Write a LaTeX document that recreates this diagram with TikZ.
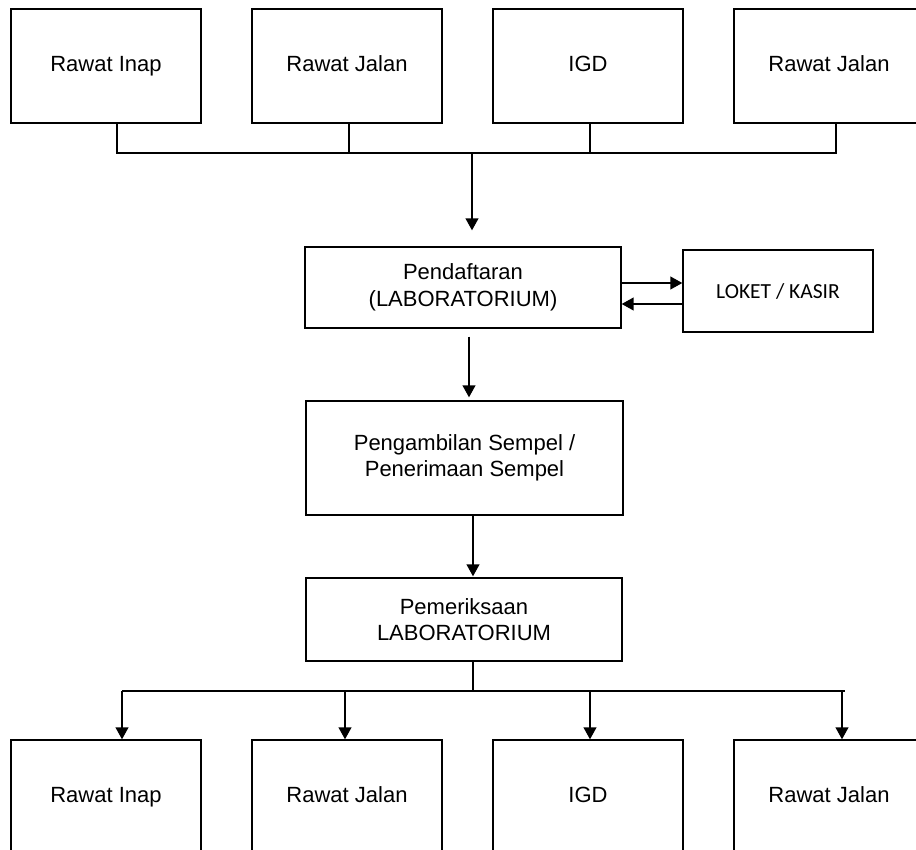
\documentclass[tikz,border=0pt]{standalone}
\usepackage{fontspec}
\setmainfont{Liberation Sans}
\newfontfamily\calibri{Carlito}
\usetikzlibrary{arrows.meta}
\tikzset{
    box/.style={draw, line width=1.2pt, align=center, inner sep=0pt,
        font=\fontsize{22}{26.5}\selectfont},
    unitbox/.style={box, minimum width=190pt, minimum height=114pt,
        text height=16pt, text depth=4.5pt},
    conn/.style={line width=2.4pt},
    arr/.style={conn, -{Triangle[length=12pt,width=12.5pt]}}
}
\begin{document}
\begin{tikzpicture}[x=1pt,y=-1pt]
    \useasboundingbox (0,0) rectangle (916,850);
    \node[unitbox] (rin1) at (106,66) {Rawat Inap};
    \node[unitbox] (rjl1) at (347,66) {Rawat Jalan};
    \node[unitbox] (igd1) at (588,66) {IGD};
    \node[unitbox] (rjl2) at (829,66) {Rawat Jalan};
    \node[box, minimum width=316pt, minimum height=81pt] (daftar) at (463,287.5)
        {Pendaftaran\\(LABORATORIUM)};
    \node[box, minimum width=190pt, minimum height=82pt,
        font=\calibri\fontsize{21.5}{26}\selectfont] (kasir) at (778,291) {LOKET / KASIR};
    \node[box, minimum width=317pt, minimum height=114pt] (ambil) at (464.5,458)
        {Pengambilan Sempel /\\Penerimaan Sempel};
    \node[box, minimum width=316pt, minimum height=83pt] (periksa) at (464,619.5)
        {Pemeriksaan\\LABORATORIUM};
    \node[unitbox] (rin3) at (106,797) {Rawat Inap};
    \node[unitbox] (rjl3) at (347,797) {Rawat Jalan};
    \node[unitbox] (igd3) at (588,797) {IGD};
    \node[unitbox] (rjl4) at (829,797) {Rawat Jalan};
    % upper bus
    \coordinate (t1) at (117,153);
    \coordinate (t2) at (349,153);
    \coordinate (t3) at (590,153);
    \coordinate (t4) at (836,153);
    \coordinate (tm) at (472,153);
    \draw[conn] (t1 |- rin1.south) -- (t1) -- (t4) -- (t4 |- rjl2.south);
    \draw[conn] (t2 |- rjl1.south) -- (t2);
    \draw[conn] (t3 |- igd1.south) -- (t3);
    \draw[arr, shorten >=16pt] (tm) -- (tm |- daftar.north);
    % loket
    \draw[arr] ([yshift=4.5pt]daftar.east) -- ([yshift=4.5pt]daftar.east -| kasir.west);
    \draw[arr] ([yshift=-16.5pt]daftar.east -| kasir.west) -- ([yshift=-16.5pt]daftar.east);
    % middle chain
    \draw[arr, shorten <=8pt, shorten >=3pt] ([xshift=6pt]daftar.south) -- ([xshift=6pt]daftar.south |- ambil.north);
    \draw[arr, shorten >=1pt] ([xshift=8.5pt]ambil.south) -- ([xshift=8.5pt]ambil.south |- periksa.north);
    % lower bus
    \coordinate (bm) at (473,691);
    \coordinate (b1) at (122,691);
    \coordinate (b2) at (345,691);
    \coordinate (b3) at (590,691);
    \coordinate (b4) at (842,691);
    \coordinate (be) at (845,691);
    \draw[conn] (bm |- periksa.south) -- (bm);
    \draw[conn] (b1) -- (be);
    \draw[arr] (b1) -- (b1 |- rin3.north);
    \draw[arr] (b2) -- (b2 |- rjl3.north);
    \draw[arr] (b3) -- (b3 |- igd3.north);
    \draw[arr] (b4) -- (b4 |- rjl4.north);
\end{tikzpicture}
\end{document}
